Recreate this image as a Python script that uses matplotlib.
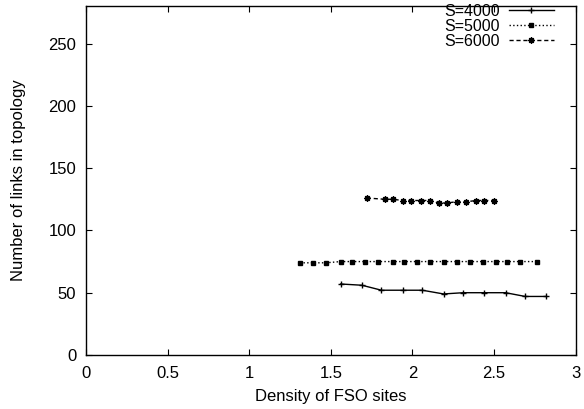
import matplotlib
matplotlib.use("Agg")
import matplotlib.pyplot as plt

plt.rcParams["font.family"] = ["Liberation Sans", "DejaVu Sans"]

# values
x_4000 = [1.56, 1.69, 1.81, 1.94, 2.06, 2.19, 2.31, 2.44, 2.57, 2.69, 2.82]
y_4000 = [57, 56, 52, 52, 52, 49, 50, 50, 50, 47, 47]

x_5000 = [1.31, 1.39, 1.47, 1.56, 1.63, 1.71, 1.79, 1.88, 1.95, 2.03,
          2.11, 2.19, 2.27, 2.35, 2.43, 2.51, 2.58, 2.66, 2.76]
y_5000 = [74, 74, 74, 75, 75, 75, 75, 75, 75, 75,
          75, 75, 75, 75, 75, 75, 75, 75, 75]

x_6000 = [1.72, 1.83, 1.88, 1.94, 1.99, 2.05, 2.11, 2.16, 2.21, 2.27,
          2.33, 2.39, 2.44, 2.50]
y_6000 = [126, 125, 125, 124, 124, 124, 124, 122, 122, 123,
          123, 124, 124, 124]

fig = plt.figure(figsize=(5.84, 4.09), dpi=100)
ax = fig.add_axes([0.147, 0.132, 0.839, 0.853])

ax.plot(x_4000, y_4000, "k-", lw=1, marker="+", ms=5, mew=1, label="S=4000")
ax.plot(x_5000, y_5000, "k:", lw=1, marker="s", ms=3.5, label="S=5000")
ax.plot(x_6000, y_6000, "k--", lw=1, dashes=(3, 2), marker=(8, 2, 0), ms=4.5,
        mew=1, label="S=6000")

ax.set_xlim(0, 3)
ax.set_ylim(0, 280)
ax.set_xticks([0, 0.5, 1, 1.5, 2, 2.5, 3])
ax.set_xticklabels(["0", "0.5", "1", "1.5", "2", "2.5", "3"])
ax.set_yticks([0, 50, 100, 150, 200, 250])
ax.tick_params(direction="in", top=True, right=True, length=4, width=0.8,
               labelsize=12)
ax.tick_params(axis="x", pad=8)
ax.tick_params(axis="y", pad=7)
for s in ax.spines.values():
    s.set_linewidth(1)

ax.set_xlabel("Density of FSO sites", fontsize=12, labelpad=6)
ax.set_ylabel("Number of links in topology", fontsize=12, labelpad=16)

ax.legend(loc="upper right", frameon=False, markerfirst=False, numpoints=1,
          fontsize=11.5, handlelength=2.8, labelspacing=0.0,
          borderaxespad=0.0, borderpad=0.0, handletextpad=0.6,
          bbox_to_anchor=(0.955, 1.006))

fig.savefig("out.png", dpi=100)
